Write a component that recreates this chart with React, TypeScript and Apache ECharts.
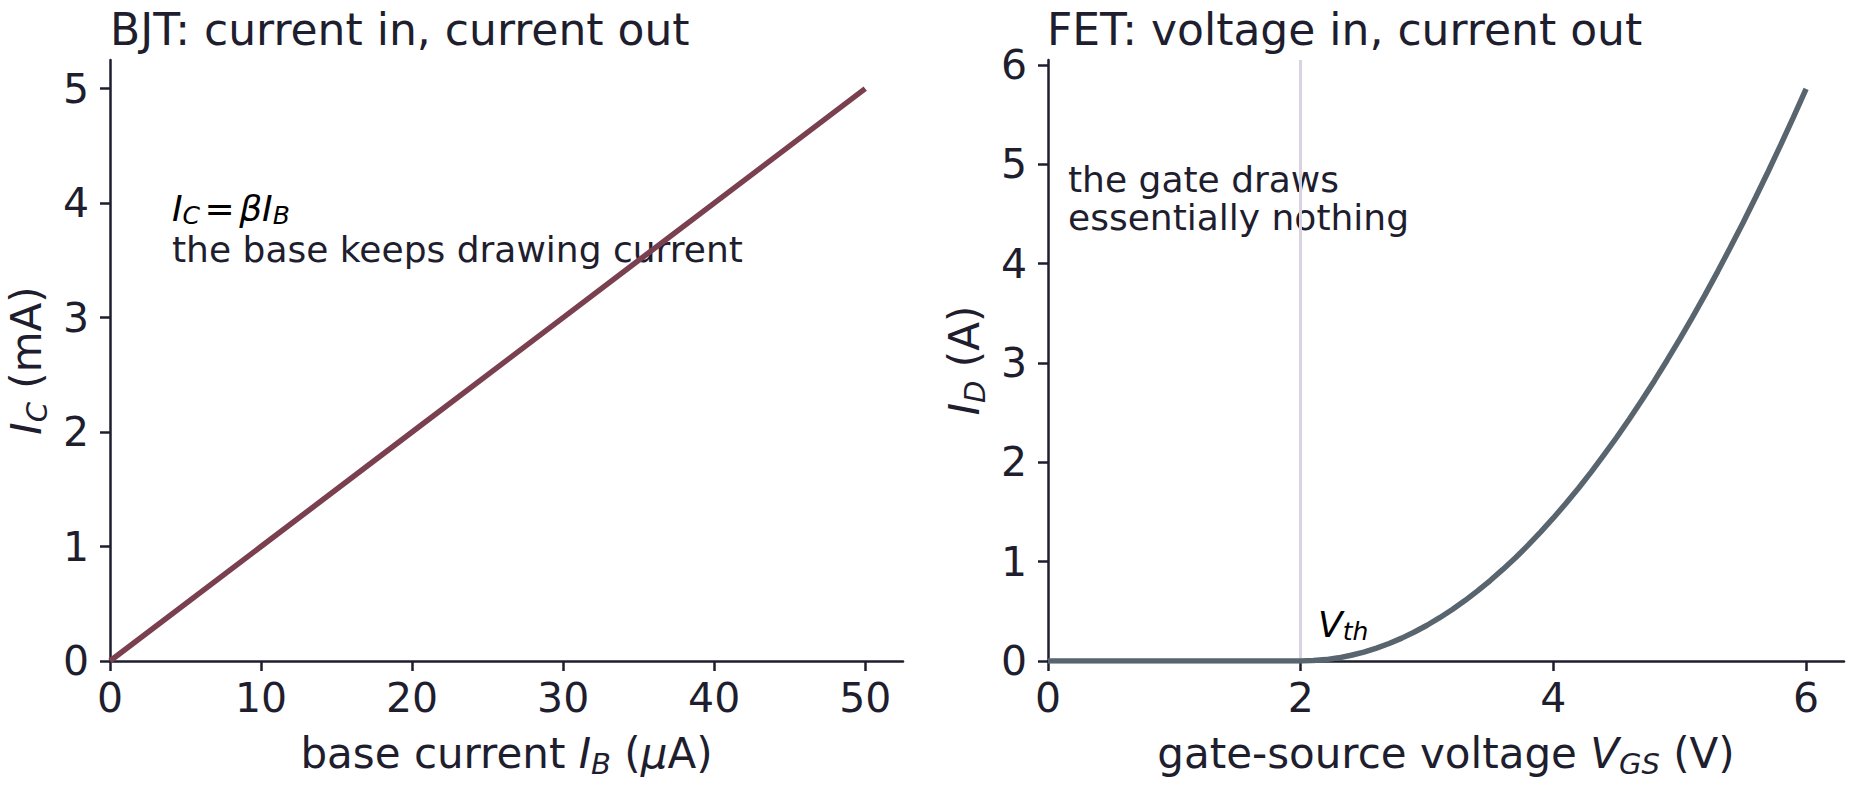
import React, { useEffect, useRef } from "react";
import * as echarts from "echarts";

// ---- data ----
const bjtBaseCurrent = [0, 10, 20, 30, 40, 50]; // µA
const bjtCollectorCurrent = [0, 1, 2, 3, 4, 5]; // mA
const bjtXTicks = [0, 10, 20, 30, 40, 50];
const bjtYTicks = [0, 1, 2, 3, 4, 5];

const fetVgs = [
  0, 1, 2, 2.1, 2.2, 2.3, 2.4, 2.5, 2.6, 2.7, 2.8, 2.9, 3.0, 3.1, 3.2, 3.3, 3.4,
  3.5, 3.6, 3.7, 3.8, 3.9, 4.0, 4.1, 4.2, 4.3, 4.4, 4.5, 4.6, 4.7, 4.8, 4.9, 5.0,
  5.1, 5.2, 5.3, 5.4, 5.5, 5.6, 5.7, 5.8, 5.9, 6.0,
];
const fetId = [
  0, 0, 0, 0.004, 0.014, 0.032, 0.058, 0.09, 0.13, 0.176, 0.23, 0.292, 0.36,
  0.436, 0.518, 0.608, 0.706, 0.81, 0.922, 1.04, 1.166, 1.3, 1.44, 1.588, 1.742,
  1.904, 2.074, 2.25, 2.434, 2.624, 2.822, 3.028, 3.24, 3.46, 3.686, 3.92, 4.162,
  4.41, 4.666, 4.928, 5.198, 5.476, 5.76,
];
const fetXTicks = [0, 2, 4, 6];
const fetYTicks = [0, 1, 2, 3, 4, 5, 6];
const thresholdVoltage = 2;

// ---- style ----
const FONT = "DejaVu Sans";
const INK = "#1e1e2e";
const BJT_COLOR = "#7b404f";
const FET_COLOR = "#59656e";
const VTH_COLOR = "#d8d3df";

const mathRich = (size: number, lh: number) => {
  const sub = Math.round(size * 0.7);
  return {
    r: { fontFamily: FONT, fontSize: size, color: INK, lineHeight: lh, verticalAlign: "middle" },
    i: { fontFamily: FONT, fontStyle: "italic", fontSize: size, color: INK, lineHeight: lh, verticalAlign: "middle" },
    s: { fontFamily: FONT, fontStyle: "italic", fontSize: sub, color: INK, lineHeight: sub, verticalAlign: "bottom" },
    sp: { fontFamily: FONT, fontSize: Math.round(size * 0.4), color: INK, lineHeight: lh, verticalAlign: "middle" },
  };
};

const axisBase = (ticks: number[], isX: boolean) => ({
  axisLine: { show: true, onZero: false, lineStyle: { color: INK, width: 2.5 } },
  axisTick: { show: true, inside: false, length: 10, customValues: ticks, lineStyle: { color: INK, width: 2.5 } },
  axisLabel: {
    show: true,
    customValues: ticks,
    fontFamily: FONT,
    fontSize: 41,
    color: INK,
    margin: isX ? 16 : 21,
  },
  splitLine: { show: false },
});

const nameStyle = {
  fontFamily: FONT,
  fontSize: 42,
  color: INK,
  lineHeight: 50,
  rich: mathRich(42, 50),
};

const titleStyle = { fontFamily: FONT, fontSize: 44, fontWeight: "normal", color: INK, lineHeight: 50 };

const plainNote = (text: string, x: number, y: number) => ({
  type: "text",
  x,
  y,
  silent: true,
  style: {
    text,
    fontFamily: FONT,
    fontSize: 36,
    fill: INK,
    verticalAlign: "middle",
    align: "left",
  },
});

export default function App() {
  const ref = useRef<HTMLDivElement>(null);

  useEffect(() => {
    document.body.style.margin = "0";
    if (!ref.current) return;
    const chart = echarts.init(ref.current, null, { renderer: "svg" });

    const bjtData = bjtBaseCurrent.map((x, i) => [x, bjtCollectorCurrent[i]]);
    const fetData = fetVgs.map((x, i) => [x, fetId[i]]);

    const option: any = {
      animation: false,
      backgroundColor: "#ffffff",
      title: [
        { text: "BJT: current in, current out", left: 110, top: 4, padding: 0, textStyle: titleStyle },
        { text: "FET: voltage in, current out", left: 1047, top: 4, padding: 0, textStyle: titleStyle },
      ],
      grid: [
        { left: 110, top: 60, width: 793, height: 601, containLabel: false },
        { left: 1048, top: 60, width: 796, height: 601, containLabel: false },
      ],
      xAxis: [
        {
          type: "value",
          gridIndex: 0,
          min: 0,
          max: 52.5,
          interval: 10,
          name: "{r|base current }{i|I}{s|B}{r| (}{i|μ}{r|A)}",
          nameLocation: "middle",
          nameGap: 67,
          nameTextStyle: nameStyle,
          ...axisBase(bjtXTicks, true),
        },
        {
          type: "value",
          gridIndex: 1,
          min: 0,
          max: 6.3,
          interval: 2,
          name: "{r|gate-source voltage }{i|V}{s|GS}{r| (V)}",
          nameLocation: "middle",
          nameGap: 67,
          nameTextStyle: nameStyle,
          ...axisBase(fetXTicks, true),
        },
      ],
      yAxis: [
        {
          type: "value",
          gridIndex: 0,
          min: 0,
          max: 5.25,
          interval: 1,
          name: "{i|I}{s|C}{r| (mA)}",
          nameLocation: "middle",
          nameGap: 59,
          nameTextStyle: nameStyle,
          ...axisBase(bjtYTicks, false),
        },
        {
          type: "value",
          gridIndex: 1,
          min: 0,
          max: 6.05,
          interval: 1,
          name: "{i|I}{s|D}{r| (A)}",
          nameLocation: "middle",
          nameGap: 59,
          nameTextStyle: nameStyle,
          ...axisBase(fetYTicks, false),
        },
      ],
      series: [
        {
          type: "line",
          xAxisIndex: 0,
          yAxisIndex: 0,
          data: bjtData,
          showSymbol: false,
          symbol: "none",
          lineStyle: { color: BJT_COLOR, width: 5.5 },
          z: 2,
        },
        {
          type: "line",
          xAxisIndex: 1,
          yAxisIndex: 1,
          data: fetData,
          showSymbol: false,
          symbol: "none",
          lineStyle: { color: FET_COLOR, width: 5.5 },
          z: 2,
          markLine: {
            silent: true,
            symbol: ["none", "none"],
            label: { show: false },
            lineStyle: { color: VTH_COLOR, width: 3, type: "solid" },
            data: [{ xAxis: thresholdVoltage }],
            z: 1,
          },
        },
      ],
      graphic: [
        {
          type: "text",
          x: 172,
          y: 188,
          silent: true,
          style: {
            text: "{i|I}{s|C}{sp| }{r|=}{sp| }{i|βI}{s|B}",
            verticalAlign: "top",
            align: "left",
            rich: mathRich(36, 40),
          },
        },
        plainNote("the base keeps drawing current", 172, 249),
        plainNote("the gate draws", 1068, 179.5),
        plainNote("essentially nothing", 1068, 217.5),
        {
          type: "text",
          x: 1318,
          y: 604,
          silent: true,
          style: {
            text: "{i|V}{s|th}",
            verticalAlign: "top",
            align: "left",
            rich: mathRich(36, 40),
          },
        },
      ],
    };

    chart.setOption(option);
    return () => {
      chart.dispose();
    };
  }, []);

  return <div ref={ref} style={{ width: 1850, height: 790 }} />;
}
